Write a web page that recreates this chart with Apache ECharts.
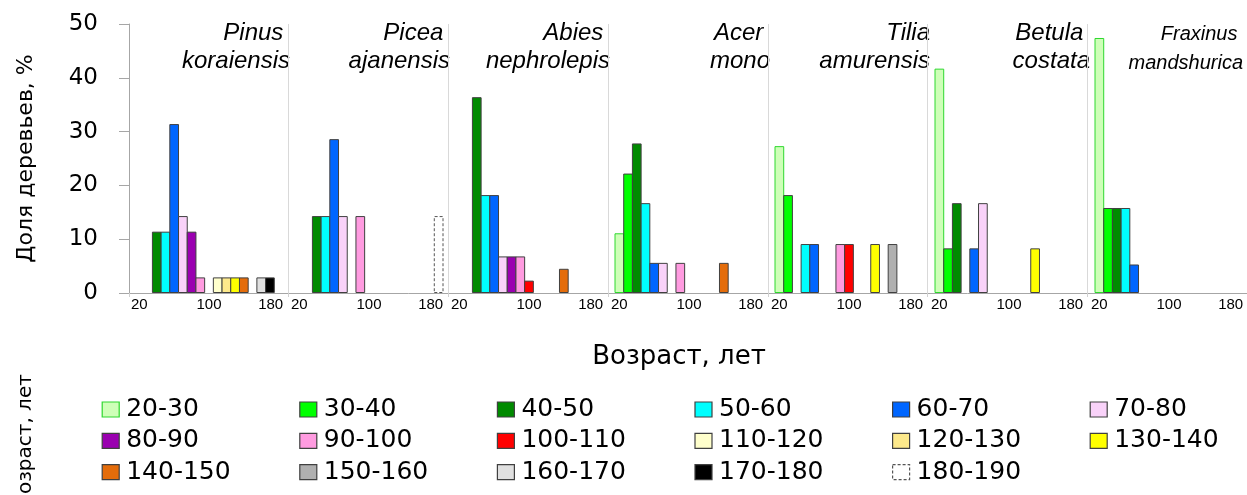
<!DOCTYPE html>
<html>
<head>
<meta charset="utf-8">
<script src="https://cdn.jsdelivr.net/npm/echarts@6/dist/echarts.min.js"></script>
<style>
  html, body { margin: 0; padding: 0; background: #fff; }
  #chart { width: 1247px; height: 495px; }
</style>
</head>
<body>
<div id="chart"></div>
<script>
// Age classes (years)
const categories = ['20-30', '30-40', '40-50', '50-60', '60-70', '70-80', '80-90', '90-100',
  '100-110', '110-120', '120-130', '130-140', '140-150', '150-160', '160-170', '170-180', '180-190'];

const classColors = ['#ceffb8', '#00ff00', '#008a00', '#00ffff', '#0066ff', '#f9d2f9', '#9a00b0', '#ff9be0',
  '#ff0000', '#ffffcc', '#fde98b', '#ffff00', '#e46c0a', '#b0b0b0', '#e0e0e0', '#000000', '#ffffff'];

// Species panel titles (two lines each)
const speciesLabels = [
  ['Pinus ', 'koraiensis'],
  ['Picea ', 'ajanensis'],
  ['Abies ', 'nephrolepis'],
  ['Acer ', 'mono'],
  ['Tilia', 'amurensis'],
  ['Betula ', 'costata'],
  ['Fraxinus ', 'mandshurica']
];

// Share of trees by age class, %
const pinusKoraiensis = [null, null, 11.4, 11.4, 31.4, 14.3, 11.4, 2.9, null, 2.9, 2.9, 2.9, 2.9, null, 2.9, 2.9, null];
const piceaAjanensis = [null, null, 14.3, 14.3, 28.6, 14.3, null, 14.3, null, null, null, null, null, null, null, null, 14.3];
const abiesNephrolepis = [null, null, 36.4, 18.2, 18.2, 6.8, 6.8, 6.8, 2.3, null, null, null, 4.5, null, null, null, null];
const acerMono = [11.1, 22.2, 27.8, 16.7, 5.6, 5.6, null, 5.6, null, null, null, null, 5.6, null, null, null, null];
const tiliaAmurensis = [27.3, 18.2, null, 9.1, 9.1, null, null, 9.1, 9.1, null, null, 9.1, null, 9.1, null, null, null];
const betulaCostata = [41.7, 8.3, 16.7, null, 8.3, 16.7, null, null, null, null, null, 8.3, null, null, null, null, null];
const fraxinusMandshurica = [47.4, 15.8, 15.8, 15.8, 5.3, null, null, null, null, null, null, null, null, null, null, null, null];

const speciesValues = [pinusKoraiensis, piceaAjanensis, abiesNephrolepis, acerMono,
  tiliaAmurensis, betulaCostata, fraxinusMandshurica];

const yTicks = { min: 0, max: 50, interval: 10 };

const PLOT_LEFT = 129, PLOT_TOP = 24, PLOT_H = 269, PANEL_W = 160, PANEL_PAD = 6;
const BORDER_W = 1;
const bandW = (PANEL_W - 2 * PANEL_PAD) / categories.length;

function classStyle(c) {
  const st = { color: classColors[c], borderColor: '#404040', borderWidth: BORDER_W, borderType: 'solid' };
  if (c === 0) st.borderColor = '#2ed82e';
  if (c === categories.length - 1) { st.borderColor = '#555'; st.borderType = [3, 2]; }
  return st;
}

const grids = [{ left: PLOT_LEFT, top: PLOT_TOP, width: PANEL_W * 7, height: PLOT_H }];
const xAxes = [{
  type: 'value', gridIndex: 0, min: 0, max: 7, interval: 1,
  axisLine: { show: true, lineStyle: { color: '#a6a6a6', width: 1 } },
  axisTick: { show: true, length: 4, lineStyle: { color: '#d0d0d0' } },
  axisLabel: { show: false },
  splitLine: { show: true, lineStyle: { color: '#d9d9d9', width: 1 } }
}];
const yAxes = [{
  type: 'value', gridIndex: 0, min: yTicks.min, max: yTicks.max, interval: yTicks.interval,
  axisLine: { show: true, lineStyle: { color: '#a6a6a6', width: 1 } },
  axisTick: { show: true, length: 10, lineStyle: { color: '#a6a6a6' } },
  axisLabel: { fontSize: 23, fontFamily: 'DejaVu Sans', color: '#000', margin: 31 },
  splitLine: { show: false },
  name: 'Доля деревьев, %', nameLocation: 'middle', nameRotate: 90, nameGap: 92,
  nameTextStyle: { fontSize: 22, fontFamily: 'DejaVu Sans', color: '#000' }
}];

const series = [];
const graphics = [];

speciesValues.forEach((vals, s) => {
  const gi = s + 1;
  grids.push({ left: PLOT_LEFT + PANEL_W * s + PANEL_PAD, top: PLOT_TOP, width: PANEL_W - 2 * PANEL_PAD, height: PLOT_H });
  xAxes.push({
    type: 'category', gridIndex: gi, data: categories, boundaryGap: true,
    axisLine: { show: false }, axisTick: { show: false },
    axisLabel: {
      interval: 7, margin: 4, fontSize: 15, fontFamily: 'Liberation Sans', color: '#000',
      formatter: (v, i) => {
        const lo = v.split('-')[0];
        return i === categories.length - 1 ? '{r|' + lo + '}' : lo;
      },
      rich: { r: { fontSize: 15, fontFamily: 'Liberation Sans', color: '#000', padding: [0, 16, 0, 0] } }
    }
  });
  yAxes.push({ type: 'value', gridIndex: gi, min: yTicks.min, max: yTicks.max, show: false });

  categories.forEach((name, c) => {
    series.push({
      type: 'bar', name: name, xAxisIndex: gi, yAxisIndex: gi, stack: 'panel' + s,
      // neighbouring bars share one outline
      barWidth: bandW + BORDER_W, barGap: '-100%',
      itemStyle: classStyle(c),
      emphasis: { disabled: true },
      data: vals.map((v, k) => (k === c ? v : null))
    });
  });

  // species title, right aligned at the panel's right edge
  const small = s === speciesValues.length - 1;
  const fs = small ? 20 : 24;
  const rightX = small ? 1243 : PLOT_LEFT + PANEL_W * (s + 1) + 1;
  speciesLabels[s].forEach((line, li) => {
    graphics.push({
      type: 'text', x: rightX, y: (li === 0 ? 41.7 : 70) - fs * 0.35,
      style: { text: line, align: 'right', verticalAlign: 'middle', fontSize: fs,
        fontStyle: 'italic', fontFamily: 'Liberation Sans', fill: '#000' }
    });
  });
});

graphics.push({
  type: 'text', x: 679, y: 357,
  style: { text: 'Возраст, лет', align: 'center', verticalAlign: 'middle', fontSize: 26,
    fontFamily: 'DejaVu Sans', fill: '#000' }
});
graphics.push({
  type: 'text', x: 26, y: 440, rotation: Math.PI / 2,
  style: { text: 'возраст, лет', align: 'center', verticalAlign: 'middle', fontSize: 20,
    fontFamily: 'DejaVu Sans', fill: '#000' }
});

// legend: 6 columns x 3 rows
const legends = categories.map((name, c) => {
  const st = classStyle(c);
  return {
    data: [name],
    left: 101.6 + 197.6 * (c % 6),
    top: 409 + 31.3 * Math.floor(c / 6) - 12,
    padding: 0, itemGap: 0, itemWidth: 17, itemHeight: 15, icon: 'rect',
    selectedMode: false,
    itemStyle: { color: st.color, borderColor: st.borderColor, borderWidth: 1.2, borderType: st.borderType },
    textStyle: { fontSize: 25, fontFamily: 'DejaVu Sans', color: '#000', lineHeight: 24, padding: [0, 0, 0, 2] }
  };
});

const chart = echarts.init(document.getElementById('chart'), null, { renderer: 'canvas' });
chart.setOption({
  animation: false,
  backgroundColor: '#fff',
  grid: grids,
  xAxis: xAxes,
  yAxis: yAxes,
  legend: legends,
  graphic: graphics,
  series: series
});
</script>
</body>
</html>
